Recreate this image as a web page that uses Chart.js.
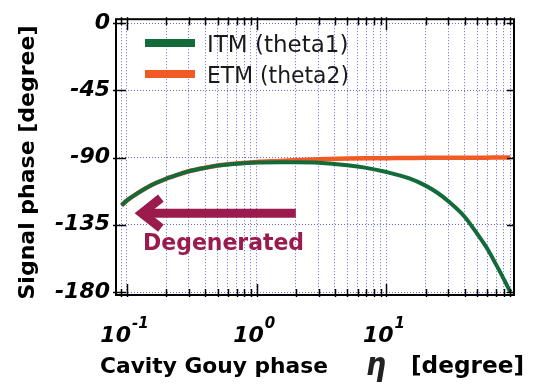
<!DOCTYPE html>
<html><head><meta charset="utf-8">
<script src="https://cdn.jsdelivr.net/npm/chart.js@4/dist/chart.umd.min.js"></script>
<style>html,body{margin:0;padding:0;background:#fff;} canvas{display:block;}</style>
</head><body>
<canvas id="c" width="534" height="385"></canvas>
<script>
// ---- data ----
const eta = [0.091, 0.1, 0.12, 0.15, 0.2, 0.25, 0.3, 0.4, 0.5, 0.7, 1, 1.5, 2, 3, 5, 7, 10, 15, 20, 25, 30, 40, 50, 60, 70, 80, 90];
const itmPhase = [-122, -118.7, -114.0, -109.0, -104.2, -101.3, -99.2, -96.9, -95.4, -94.1, -93.3, -93.1, -93.1, -93.4, -95.1, -96.9, -99.7, -104.0, -108.8, -113.9, -119.3, -129.6, -141.0, -151.2, -161.7, -171.2, -180];
const etmPhase = [-122, -118.7, -114.0, -109.0, -104.2, -101.3, -99.2, -96.8, -95.3, -93.9, -92.9, -92.3, -91.8, -91.2, -90.7, -90.5, -90.4, -90.3, -90.2, -90.2, -90.2, -90.1, -90.1, -90.1, -90, -90, -90];
const seriesLabels = ['ITM (theta1)', 'ETM (theta2)'];
const xTickValues = [0.09, 0.1, 0.2, 0.3, 0.4, 0.5, 0.6, 0.7, 0.8, 0.9, 1, 2, 3, 4, 5, 6, 7, 8, 9, 10, 20, 30, 40, 50, 60, 70, 80, 90];
const xMajorTicks = [0.1, 1, 10];
const xMajorExponents = ['-1', '0', '1'];
const yTickValues = [0, -45, -90, -135, -180];
const yTickLabels = ['0', '-45', '-90', '-135', '-180'];
const arrowTail = [2.0, -127.2];
const arrowTip = [0.115, -127.2];
const arrowText = 'Degenerated';
const arrowTextPos = [0.133, -151.6];
const xTitleParts = ['Cavity Gouy phase', 'η', '[degree]'];
const yTitle = 'Signal phase [degree]';

// ---- styles ----
const GREEN = '#146b3a', ORANGE = '#f15a24', ARROW = '#9b1b4e', GRID = 'rgba(80,80,210,0.85)';
const FONT = '"DejaVu Sans", Verdana, sans-serif';

const toPts = ys => eta.map((x, i) => ({x: x, y: ys[i]}));

function line(ctx, x1, y1, x2, y2) { ctx.beginPath(); ctx.moveTo(x1, y1); ctx.lineTo(x2, y2); ctx.stroke(); }

const deco = {
  id: 'deco',
  afterDraw(chart) {
    const ctx = chart.ctx, a = chart.chartArea, x = chart.scales.x, y = chart.scales.y;
    ctx.save();
    // inner tick marks
    ctx.strokeStyle = '#000'; ctx.lineWidth = 1.5; ctx.lineCap = 'butt';
    xTickValues.forEach(v => {
      const px = Math.round(x.getPixelForValue(v)) + 0.5;
      const len = xMajorTicks.includes(v) ? 11 : 6;
      line(ctx, px, a.bottom + 2, px, a.bottom - len);
      line(ctx, px, a.top - 2, px, a.top + len);
    });
    yTickValues.forEach(v => {
      const py = Math.round(y.getPixelForValue(v)) + 0.5;
      line(ctx, a.left - 3, py, a.left + 10, py);
      line(ctx, a.right - 7, py, a.right + 1, py);
    });
    // frame
    ctx.lineWidth = 2;
    ctx.strokeRect(a.left, a.top, a.right - a.left, a.bottom - a.top);

    // legend
    chart.data.datasets.forEach((ds, i) => {
      const ly = 43 + i * 31;
      ctx.strokeStyle = ds.borderColor; ctx.lineWidth = 8;
      line(ctx, 145, ly, 195, ly);
      ctx.fillStyle = '#1a1a1a'; ctx.font = '23px ' + FONT;
      ctx.textAlign = 'left'; ctx.textBaseline = 'alphabetic';
      ctx.fillText(ds.label, 207, ly + 9, 142);
    });

    // arrow annotation
    const tx = x.getPixelForValue(arrowTip[0]), ty = y.getPixelForValue(arrowTip[1]);
    const sx = x.getPixelForValue(arrowTail[0]);
    ctx.strokeStyle = ARROW; ctx.lineWidth = 9; ctx.lineJoin = 'miter'; ctx.miterLimit = 10;
    line(ctx, tx + 10, ty, sx, ty);
    ctx.beginPath(); ctx.moveTo(tx + 26, ty - 15); ctx.lineTo(tx + 7, ty); ctx.lineTo(tx + 26, ty + 15); ctx.stroke();
    ctx.fillStyle = ARROW; ctx.font = 'bold 23px ' + FONT;
    ctx.fillText(arrowText, x.getPixelForValue(arrowTextPos[0]), y.getPixelForValue(arrowTextPos[1]), 161);

    // x tick labels 10^n
    ctx.fillStyle = '#000';
    xMajorTicks.forEach((v, i) => {
      const px = x.getPixelForValue(v);
      ctx.font = 'italic bold 22px ' + FONT; const w1 = ctx.measureText('10').width;
      ctx.font = 'italic bold 15px ' + FONT; const w2 = ctx.measureText(xMajorExponents[i]).width;
      const start = px - (w1 + w2) / 2 - 3;
      ctx.font = 'italic bold 22px ' + FONT; ctx.fillText('10', start, 342);
      ctx.font = 'italic bold 15px ' + FONT; ctx.fillText(xMajorExponents[i], start + w1 + 1, 328);
    });

    // axis titles
    ctx.font = 'bold 22px ' + FONT; ctx.fillStyle = '#000';
    ctx.fillText(xTitleParts[0], 100, 373, 228);
    ctx.font = 'italic bold 32px ' + FONT; ctx.fillStyle = '#222';
    ctx.fillText(xTitleParts[1], 366, 375, 20);
    ctx.font = 'bold 23.5px ' + FONT; ctx.fillStyle = '#000';
    ctx.fillText(xTitleParts[2], 411, 373, 113);

    ctx.save();
    ctx.translate(34, 162.5); ctx.rotate(-Math.PI / 2);
    ctx.textAlign = 'center'; ctx.font = 'bold 22px ' + FONT;
    ctx.fillText(yTitle, 0, 0, 275);
    ctx.restore();
    ctx.restore();
  }
};

new Chart(document.getElementById('c'), {
  type: 'line',
  data: {
    datasets: [
      {label: seriesLabels[0], data: toPts(itmPhase), borderColor: GREEN, borderWidth: 4, pointRadius: 0, cubicInterpolationMode: 'monotone', fill: false},
      {label: seriesLabels[1], data: toPts(etmPhase), borderColor: ORANGE, borderWidth: 4.5, pointRadius: 0, cubicInterpolationMode: 'monotone', fill: false}
    ]
  },
  options: {
    responsive: false, animation: false, devicePixelRatio: 1,
    layout: {padding: {top: 15, right: 20, left: 0, bottom: 0}},
    plugins: {legend: {display: false}, tooltip: {enabled: false}},
    scales: {
      x: {
        type: 'logarithmic', min: 0.0823, max: 96.1,
        afterBuildTicks: s => { s.ticks = xTickValues.map(v => ({value: v, major: xMajorTicks.includes(v)})); },
        afterFit: s => { s.height = 90; },
        ticks: {display: false},
        grid: {color: GRID, lineWidth: 1, drawTicks: false, borderDash: [1, 2]},
        border: {display: false, dash: [1, 2]}
      },
      y: {
        type: 'linear', min: -182, max: 2.6,
        afterBuildTicks: s => { s.ticks = yTickValues.map(v => ({value: v})); },
        afterFit: s => { s.width = 116; },
        ticks: {
          padding: 6, color: '#000',
          font: {family: FONT, size: 22, weight: 'bold', style: 'italic'},
          callback: v => { const k = yTickValues.indexOf(v); return k >= 0 ? yTickLabels[k] : ''; }
        },
        grid: {color: GRID, lineWidth: 1, drawTicks: false, borderDash: [1, 2]},
        border: {display: false, dash: [1, 2]}
      }
    }
  },
  plugins: [deco]
});
</script>
</body></html>
